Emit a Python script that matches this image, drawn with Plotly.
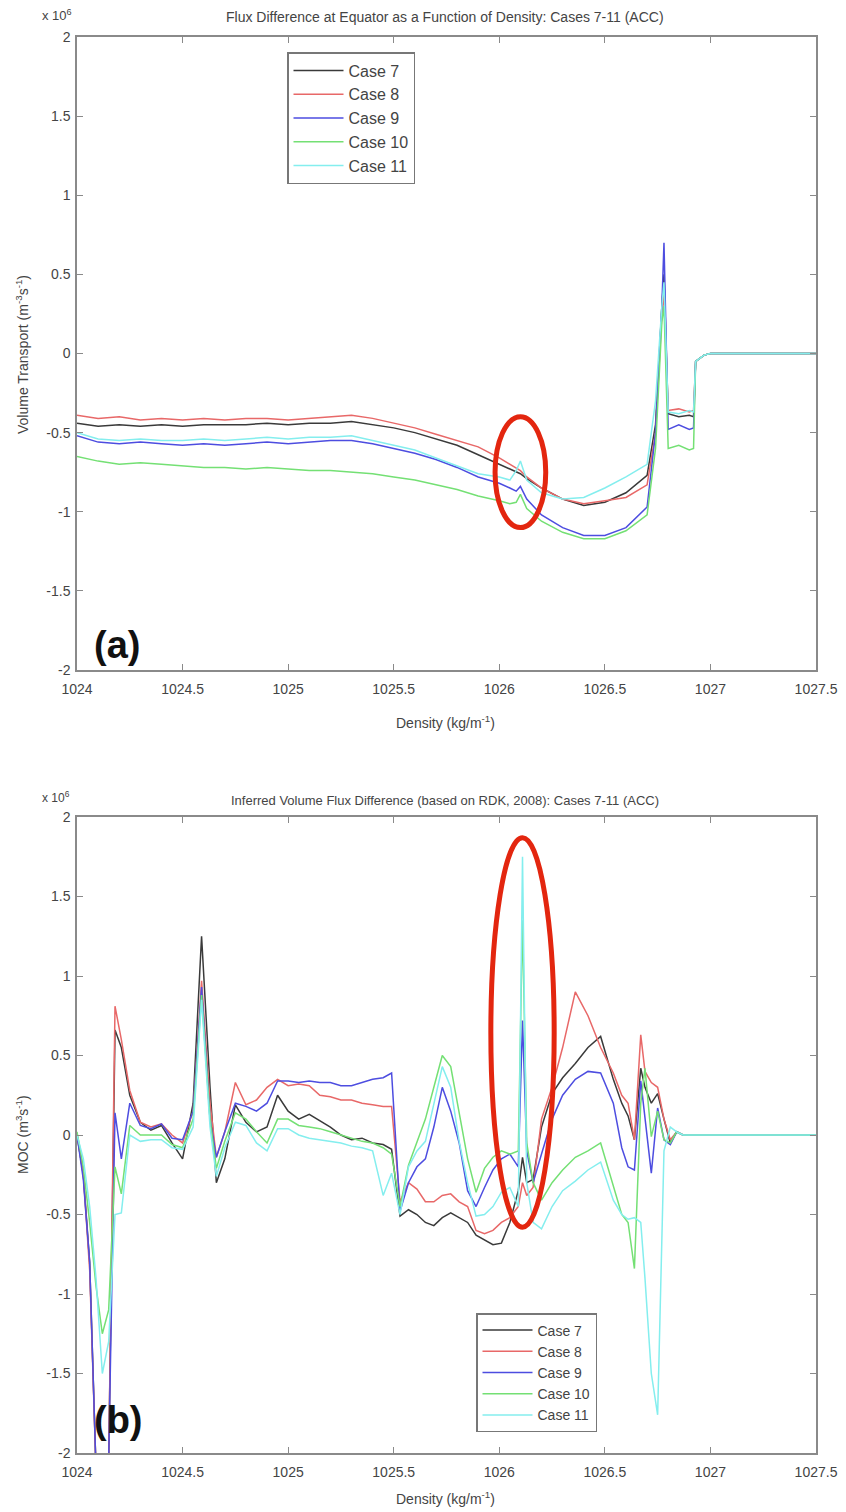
import plotly.graph_objects as go

# ---------------- Panel (a): flux difference at equator (units of 1e6) ----------------
DENS_A = [1024.0, 1024.1, 1024.2, 1024.3, 1024.4, 1024.5, 1024.6, 1024.7, 1024.8, 1024.9,
          1025.0, 1025.1, 1025.2, 1025.3, 1025.4, 1025.5, 1025.6, 1025.7, 1025.8, 1025.9,
          1026.0, 1026.05, 1026.08, 1026.1, 1026.13, 1026.2, 1026.3, 1026.4, 1026.5, 1026.6,
          1026.7, 1026.74, 1026.77, 1026.78, 1026.8, 1026.85, 1026.9, 1026.92, 1026.93, 1026.97,
          1027.0, 1027.5]

CASE7_A = [-0.44, -0.46, -0.45, -0.46, -0.45, -0.46, -0.45, -0.45, -0.45, -0.44,
           -0.45, -0.44, -0.44, -0.43, -0.45, -0.47, -0.50, -0.54, -0.58, -0.64,
           -0.70, -0.73, -0.75, -0.76, -0.79, -0.85, -0.92, -0.96, -0.94, -0.88,
           -0.77, -0.45, 0.30, 0.50, -0.38, -0.40, -0.39, -0.40, -0.05, -0.01,
           0.0, 0.0]
CASE8_A = [-0.39, -0.41, -0.40, -0.42, -0.41, -0.42, -0.41, -0.42, -0.41, -0.41,
           -0.42, -0.41, -0.40, -0.39, -0.41, -0.44, -0.47, -0.51, -0.55, -0.59,
           -0.66, -0.70, -0.72, -0.74, -0.78, -0.85, -0.92, -0.95, -0.93, -0.91,
           -0.83, -0.50, 0.25, 0.38, -0.36, -0.35, -0.37, -0.36, -0.05, -0.01,
           0.0, 0.0]
CASE9_A = [-0.52, -0.56, -0.57, -0.56, -0.57, -0.58, -0.57, -0.58, -0.57, -0.56,
           -0.57, -0.56, -0.55, -0.55, -0.57, -0.60, -0.63, -0.67, -0.72, -0.78,
           -0.82, -0.85, -0.87, -0.84, -0.92, -1.02, -1.10, -1.15, -1.15, -1.10,
           -0.97, -0.50, 0.30, 0.70, -0.48, -0.45, -0.48, -0.47, -0.05, -0.01,
           0.0, 0.0]
CASE10_A = [-0.65, -0.68, -0.70, -0.69, -0.70, -0.71, -0.72, -0.72, -0.73, -0.72,
            -0.73, -0.74, -0.74, -0.75, -0.76, -0.78, -0.80, -0.83, -0.86, -0.90,
            -0.93, -0.95, -0.94, -0.89, -0.98, -1.06, -1.13, -1.17, -1.17, -1.12,
            -1.02, -0.60, 0.20, 0.30, -0.60, -0.58, -0.61, -0.60, -0.05, -0.01,
            0.0, 0.0]
CASE11_A = [-0.50, -0.54, -0.55, -0.54, -0.55, -0.55, -0.54, -0.55, -0.54, -0.53,
            -0.54, -0.53, -0.53, -0.52, -0.55, -0.58, -0.61, -0.66, -0.71, -0.76,
            -0.78, -0.80, -0.74, -0.68, -0.80, -0.88, -0.92, -0.91, -0.85, -0.78,
            -0.70, -0.30, 0.30, 0.45, -0.37, -0.38, -0.36, -0.37, -0.05, -0.01,
            0.0, 0.0]

# ---------------- Panel (b): inferred volume flux difference (units of 1e6) ----------------
DENS_B = [1024.0, 1024.03, 1024.06, 1024.09, 1024.12, 1024.15, 1024.18, 1024.21, 1024.25, 1024.3,
          1024.35, 1024.4, 1024.45, 1024.5, 1024.55, 1024.59, 1024.63, 1024.66, 1024.7, 1024.75,
          1024.8, 1024.85, 1024.9, 1024.95, 1025.0, 1025.05, 1025.1, 1025.15, 1025.2, 1025.25,
          1025.3, 1025.35, 1025.4, 1025.45, 1025.49, 1025.53, 1025.57, 1025.61, 1025.65, 1025.69,
          1025.73, 1025.77, 1025.81, 1025.85, 1025.89, 1025.93, 1025.97, 1026.01, 1026.05, 1026.09,
          1026.11, 1026.13, 1026.16, 1026.2, 1026.25, 1026.3, 1026.36, 1026.42, 1026.48, 1026.54,
          1026.58, 1026.61, 1026.64, 1026.67, 1026.69, 1026.72, 1026.75, 1026.78, 1026.81, 1026.84,
          1026.87, 1027.5]

CASE7_B = [0.0, -0.25, -0.80, -2.10, -2.40, -2.05, 0.66, 0.55, 0.25, 0.08,
           0.03, 0.06, -0.05, -0.15, 0.20, 1.25, 0.30, -0.30, -0.15, 0.19,
           0.08, 0.02, 0.05, 0.25, 0.15, 0.10, 0.13, 0.09, 0.05, 0.00,
           -0.03, -0.02, -0.05, -0.06, -0.09, -0.51, -0.47, -0.50, -0.55, -0.57,
           -0.52, -0.49, -0.52, -0.55, -0.63, -0.66, -0.69, -0.68, -0.55, -0.35,
           -0.14, -0.30, -0.28, 0.05, 0.26, 0.36, 0.45, 0.55, 0.62, 0.35,
           0.20, 0.12, -0.03, 0.42, 0.30, 0.20, 0.26, 0.10, -0.05, 0.02,
           0.0, 0.0]
CASE8_B = [0.0, -0.25, -0.85, -2.10, -2.40, -2.05, 0.81, 0.60, 0.28, 0.08,
           0.05, 0.07, 0.00, -0.05, 0.15, 0.97, 0.20, -0.14, 0.02, 0.33,
           0.19, 0.22, 0.30, 0.35, 0.31, 0.32, 0.31, 0.25, 0.24, 0.22,
           0.22, 0.20, 0.19, 0.18, 0.18, -0.42, -0.30, -0.34, -0.42, -0.42,
           -0.38, -0.37, -0.42, -0.45, -0.60, -0.62, -0.60, -0.55, -0.52, -0.45,
           -0.30, -0.38, -0.33, 0.10, 0.30, 0.55, 0.90, 0.75, 0.55, 0.39,
           0.25, 0.20, -0.03, 0.63, 0.40, 0.33, 0.30, 0.10, -0.03, 0.02,
           0.0, 0.0]
CASE9_B = [0.0, -0.28, -0.80, -2.10, -2.40, -2.05, 0.14, -0.15, 0.20, 0.06,
           0.04, 0.07, -0.02, -0.03, 0.15, 0.93, 0.10, -0.14, 0.02, 0.20,
           0.18, 0.15, 0.20, 0.34, 0.34, 0.33, 0.34, 0.33, 0.33, 0.31,
           0.31, 0.33, 0.35, 0.36, 0.39, -0.48, -0.30, -0.20, -0.15, 0.05,
           0.30, 0.15, -0.05, -0.35, -0.45, -0.33, -0.22, -0.15, -0.12, -0.20,
           0.72, -0.10, -0.30, -0.12, 0.10, 0.25, 0.35, 0.40, 0.39, 0.20,
           -0.08, -0.20, -0.22, 0.34, 0.10, -0.24, 0.17, -0.03, -0.06, 0.02,
           0.0, 0.0]
CASE10_B = [0.02, -0.20, -0.55, -0.95, -1.25, -1.10, -0.20, -0.37, 0.06, 0.00,
            0.00, 0.00, -0.06, -0.08, 0.10, 0.88, 0.10, -0.21, -0.04, 0.14,
            0.10, 0.02, -0.05, 0.10, 0.10, 0.06, 0.05, 0.04, 0.02, 0.00,
            -0.02, -0.04, -0.05, -0.08, -0.12, -0.45, -0.19, -0.05, 0.10, 0.30,
            0.50, 0.43, 0.15, -0.15, -0.36, -0.21, -0.14, -0.10, -0.12, -0.10,
            1.35, -0.05, -0.30, -0.41, -0.30, -0.22, -0.14, -0.10, -0.05, -0.33,
            -0.50, -0.55, -0.84, 0.20, 0.42, -0.01, 0.15, -0.03, -0.05, 0.02,
            0.0, 0.0]
CASE11_B = [0.0, -0.15, -0.45, -0.90, -1.50, -1.30, -0.50, -0.49, 0.00, -0.04,
            -0.03, -0.03, -0.08, -0.09, 0.05, 0.85, 0.05, -0.26, -0.08, 0.08,
            0.06, -0.05, -0.10, 0.04, 0.04, 0.00, -0.02, -0.03, -0.04, -0.05,
            -0.07, -0.08, -0.10, -0.38, -0.24, -0.50, -0.20, -0.10, -0.04, 0.20,
            0.43, 0.30, -0.04, -0.30, -0.51, -0.50, -0.45, -0.36, -0.33, -0.45,
            1.75, -0.30, -0.55, -0.59, -0.45, -0.35, -0.29, -0.22, -0.17, -0.41,
            -0.50, -0.53, -0.52, -0.55, -0.90, -1.50, -1.76, -0.10, 0.05, 0.02,
            0.0, 0.0]

CASE_NAMES = ["Case 7", "Case 8", "Case 9", "Case 10", "Case 11"]
COLORS = ["#3a3a3a", "#e86868", "#4d4de0", "#74e074", "#84eeee"]

X_TICKS = [1024, 1024.5, 1025, 1025.5, 1026, 1026.5, 1027, 1027.5]
X_TICKTEXT = ["1024", "1024.5", "1025", "1025.5", "1026", "1026.5", "1027", "1027.5"]
Y_TICKS = [-2, -1.5, -1, -0.5, 0, 0.5, 1, 1.5, 2]
Y_TICKTEXT = ["-2", "-1.5", "-1", "-0.5", "0", "0.5", "1", "1.5", "2"]

# Highlight ellipses (data coordinates)
ELLIPSE_A = dict(x0=1025.98, x1=1026.22, y0=-1.10, y1=-0.40)
ELLIPSE_B = dict(x0=1025.96, x1=1026.26, y0=-0.58, y1=1.87)

FONT = "Liberation Sans Narrow, Liberation Sans, Arial, sans-serif"
W, H = 846, 1512
OFF = 8  # page body margin offset in the browser

fig = go.Figure()

series_a = [CASE7_A, CASE8_A, CASE9_A, CASE10_A, CASE11_A]
series_b = [CASE7_B, CASE8_B, CASE9_B, CASE10_B, CASE11_B]

for name, col, ya in zip(CASE_NAMES, COLORS, series_a):
    fig.add_trace(go.Scatter(x=DENS_A, y=ya, mode="lines", name=name,
                             line=dict(color=col, width=1.5),
                             xaxis="x", yaxis="y", legend="legend"))
for name, col, yb in zip(CASE_NAMES, COLORS, series_b):
    fig.add_trace(go.Scatter(x=DENS_B, y=yb, mode="lines", name=name,
                             line=dict(color=col, width=1.5),
                             xaxis="x2", yaxis="y2", legend="legend2"))

def px_x(p):
    return (p - OFF) / W

def px_y(p):
    return 1 - (p - OFF) / H

axis_common = dict(showgrid=False, zeroline=False, showline=True, linecolor="#8a8a8a",
                   linewidth=1.5, mirror="ticks", ticks="inside", ticklen=6,
                   tickcolor="#8a8a8a", automargin=False,
                   tickfont=dict(family=FONT, size=14, color="#444"))

dom_x = [px_x(77), px_x(816)]
fig.update_layout(
    width=W, height=H, margin=dict(l=0, r=0, t=0, b=0),
    paper_bgcolor="white", plot_bgcolor="white",
    xaxis=dict(domain=dom_x, anchor="y", range=[1024, 1027.5], tickvals=X_TICKS,
               ticktext=X_TICKTEXT, ticklabelstandoff=5, **axis_common),
    yaxis=dict(domain=[px_y(670), px_y(37)], anchor="x", range=[-2, 2], tickvals=Y_TICKS,
               ticktext=Y_TICKTEXT, ticklabelstandoff=2, **axis_common),
    xaxis2=dict(domain=dom_x, anchor="y2", range=[1024, 1027.5], tickvals=X_TICKS,
                ticktext=X_TICKTEXT, ticklabelstandoff=5, **axis_common),
    yaxis2=dict(domain=[px_y(1453), px_y(817)], anchor="x2", range=[-2, 2], tickvals=Y_TICKS,
                ticktext=Y_TICKTEXT, ticklabelstandoff=2, **axis_common),
    legend=dict(x=px_x(287), y=px_y(52), xanchor="left", yanchor="top",
                bgcolor="white", bordercolor="#777", borderwidth=1.5,
                font=dict(family=FONT, size=16, color="#444"), itemwidth=50,
                tracegroupgap=0),
    legend2=dict(x=px_x(476), y=px_y(1313), xanchor="left", yanchor="top",
                 bgcolor="white", bordercolor="#777", borderwidth=1.5,
                 font=dict(family=FONT, size=14, color="#444"), itemwidth=50,
                 tracegroupgap=0),
    showlegend=True,
)

# Highlight ellipses
fig.add_shape(type="circle", xref="x", yref="y", line=dict(color="#e3260f", width=5),
              **ELLIPSE_A)
fig.add_shape(type="circle", xref="x2", yref="y2", line=dict(color="#e3260f", width=5),
              **ELLIPSE_B)

def ann(text, x, y, size=13, color="#444", textangle=0, xanchor="center", yanchor="middle", bold=False, family=FONT):
    fig.add_annotation(text=f"<b>{text}</b>" if bold else text, x=px_x(x), y=px_y(y),
                       xref="paper", yref="paper", showarrow=False, textangle=textangle,
                       xanchor=xanchor, yanchor=yanchor,
                       font=dict(family=family, size=size, color=color))

# Titles
ann("Flux Difference at Equator as a Function of Density: Cases 7-11 (ACC)", 445, 17, size=14)
ann("Inferred Volume Flux Difference (based on RDK, 2008): Cases 7-11 (ACC)", 445, 800, size=13)
# Exponent labels
ann("x 10<sup>6</sup>", 40, 15, size=13, xanchor="left")
ann("x 10<sup>6</sup>", 40, 797, size=12, xanchor="left")
# Axis titles
ann("Volume Transport (m<sup>-3</sup>s<sup>-1</sup>)", 22, 355, size=14, textangle=-90)
ann("MOC (m<sup>3</sup>s<sup>-1</sup>)", 22, 1135, size=14, textangle=-90)
ann("Density (kg/m<sup>-1</sup>)", 445, 722, size=14)
ann("Density (kg/m<sup>-1</sup>)", 445, 1498, size=14)
# Panel letters
ann("(a)", 92, 645, size=38, color="#111", xanchor="left", bold=True,
    family="Liberation Sans, Arial, sans-serif")
ann("(b)", 92, 1420, size=38, color="#111", xanchor="left", bold=True,
    family="Liberation Sans, Arial, sans-serif")

fig.write_html("out.html")
